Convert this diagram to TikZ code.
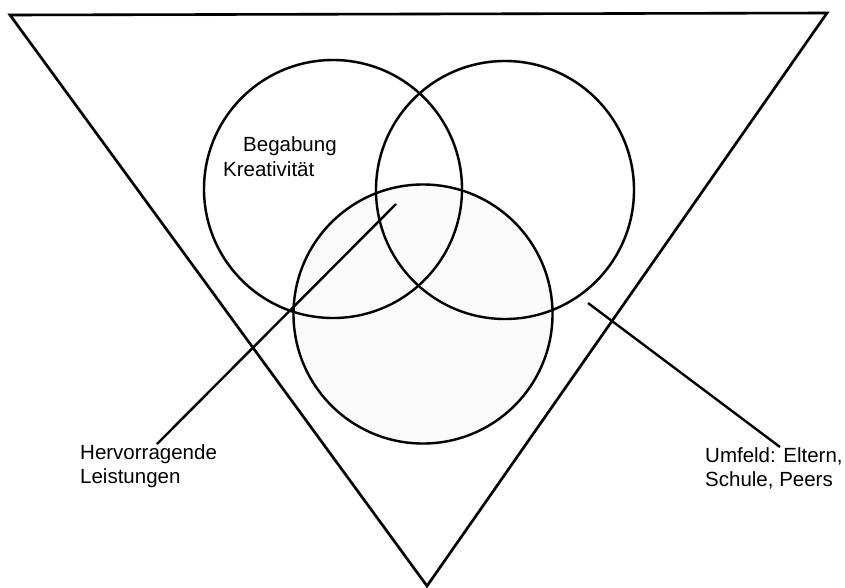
\documentclass[tikz,border=0pt]{standalone}
\usepackage{fontspec}
\setmainfont{Liberation Sans}
\begin{document}
\begin{tikzpicture}[x=1pt,y=-1pt,
  outline/.style={draw=black,line width=2.6pt,line join=miter},
  ringline/.style={draw=black,line width=2.4pt},
  shade/.style={draw=black!18,line width=3pt,opacity=0.6},
  pointer/.style={draw=black,line width=2.4pt},
  label/.style={inner sep=0pt,anchor=base west,align=left,font=\fontsize{20.5}{23.5}\selectfont}]
\useasboundingbox (0,0) rectangle (845,587);
% key positions
\coordinate (tl) at (10,15);
\coordinate (tr) at (827,13);
\coordinate (bt) at (427,586);
\coordinate (c1) at (333,189);
\coordinate (c2) at (505,190);
\coordinate (c3) at (423,314);
% soft shadows
\begin{scope}[shift={(2,3)}]
\draw[shade] (tl) -- (tr) -- (bt) -- cycle;
\draw[shade] (c1) circle (129);
\draw[shade] (c2) circle (129);
\draw[shade] (c3) circle (129.5);
\end{scope}
% triangle
\draw[outline] (tl) -- (tr) -- (bt) -- cycle;
% filled bottom circle
\fill[black!2] (c3) circle (129.5);
% circles
\draw[ringline] (c1) circle (129);
\draw[ringline] (c2) circle (129);
\draw[ringline] (c3) circle (129.5);
% texts
\node[label] (beg) at (243,151) {Begabung};
\node[label] (kre) at (223,176) {Kreativität};
\node[label] (her) at (80,483) {Hervorragende\\Leistungen};
\node[label] (umf) at (705,486) {Umfeld: Eltern,\\Schule, Peers};
% pointers
\coordinate (p1a) at (396,204);
\coordinate (p1b) at (157,444);
\coordinate (p2a) at (588,303);
\coordinate (p2b) at (780,447);
\draw[pointer] (p1a) -- (p1b);
\draw[pointer] (p2a) -- (p2b);
\end{tikzpicture}
\end{document}
